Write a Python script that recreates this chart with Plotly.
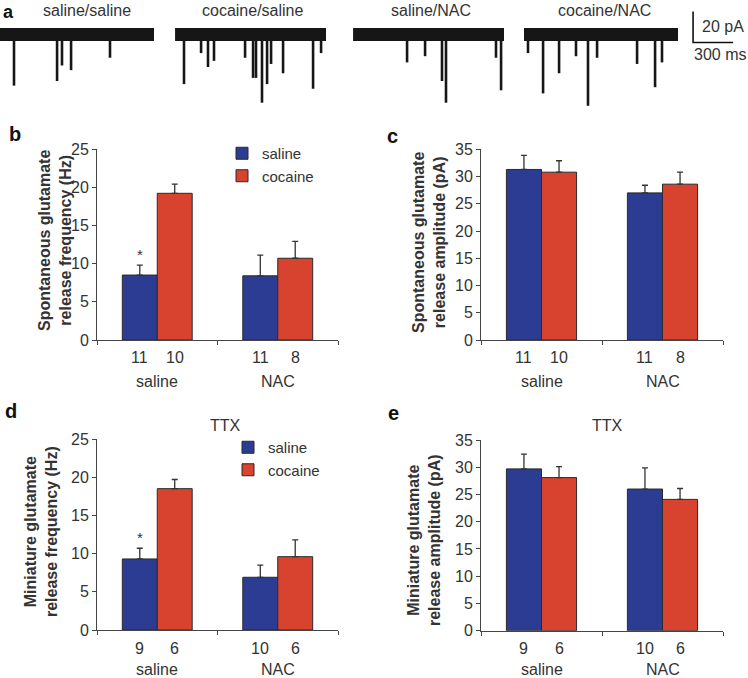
import plotly.graph_objects as go

# ---------------- data ----------------
groups = ["saline", "NAC"]
treatments = ["saline", "cocaine"]

# panel b: spontaneous glutamate release frequency (Hz)
b_saline = [8.5, 8.4]
b_saline_sem = [1.3, 2.7]
b_cocaine = [19.2, 10.7]
b_cocaine_sem = [1.2, 2.2]
# panel c: spontaneous glutamate release amplitude (pA)
c_saline = [31.3, 27.0]
c_saline_sem = [2.6, 1.4]
c_cocaine = [30.8, 28.6]
c_cocaine_sem = [2.1, 2.2]
# panel d: miniature glutamate release frequency (Hz), TTX
d_saline = [9.3, 6.9]
d_saline_sem = [1.4, 1.6]
d_cocaine = [18.5, 9.6]
d_cocaine_sem = [1.2, 2.2]
# panel e: miniature glutamate release amplitude (pA), TTX
e_saline = [29.7, 26.0]
e_saline_sem = [2.7, 3.9]
e_cocaine = [28.1, 24.1]
e_cocaine_sem = [2.0, 2.0]

# cell counts (n) under each bar
n_bc_saline = [11, 11]
n_bc_cocaine = [10, 8]
n_de_saline = [9, 10]
n_de_cocaine = [6, 6]

# panel a: example traces (time in ms, event amplitude in pA)
trace_names = ["saline/saline", "cocaine/saline", "saline/NAC", "cocaine/NAC"]
trace_start_ms = [0, 1313, 2648, 3930]
trace_end_ms = [1155, 2445, 3780, 5085]
trace_label_ms = [650, 1898, 3233, 4530]
events_ms = [
    [105, 428, 465, 533, 825],
    [1380, 1508, 1560, 1605, 1838, 1898, 1920, 1965, 2003, 2033, 2123, 2348, 2408],
    [3053, 3188, 3315, 3345, 3720, 3758],
    [3960, 4073, 4193, 4320, 4410, 4478, 4778, 4913, 4965],
]
events_pA = [
    [33, 30, 20, 23, 15],
    [32, 12, 21, 17, 15, 28, 28, 44, 32, 19, 25, 35, 12],
    [18, 14, 30, 44, 15, 36],
    [12, 38, 25, 14, 46, 15, 19, 34, 18],
]
scale_pA = 20
scale_ms = 300

# ---------------- styling ----------------
W, H = 748, 678
FONT = "Liberation Sans, Arial, Helvetica, sans-serif"
BLUE = "#2b3c92"
RED = "#d8432f"
AX = "#444444"
TXT = "#333333"


def xd(a, b):
    return [a / W, b / W]


def yd(top, bottom):
    return [1 - bottom / H, 1 - top / H]


fig = go.Figure()

panels = [
    ("x", "y", b_saline, b_saline_sem, b_cocaine, b_cocaine_sem, "legend", True),
    ("x2", "y2", c_saline, c_saline_sem, c_cocaine, c_cocaine_sem, "legend", False),
    ("x3", "y3", d_saline, d_saline_sem, d_cocaine, d_cocaine_sem, "legend2", True),
    ("x4", "y4", e_saline, e_saline_sem, e_cocaine, e_cocaine_sem, "legend2", False),
]
xpos = [i + 0.5 for i in range(len(groups))]

for xa, ya, s, ss, c, cs, leg, show in panels:
    for name, vals, errs, col in [("saline", s, ss, BLUE), ("cocaine", c, cs, RED)]:
        fig.add_trace(go.Bar(
            x=xpos, y=vals, name=name, xaxis=xa, yaxis=ya,
            offsetgroup=name, legend=leg, showlegend=show,
            marker=dict(color=col, line=dict(color="#2a2a2a", width=1)),
            error_y=dict(type="data", array=errs, arrayminus=[0] * len(errs),
                         symmetric=False, color="#333333", thickness=1.3, width=3),
        ))

# panel a traces
for k in range(len(trace_names)):
    fig.add_trace(go.Scatter(
        x=[trace_start_ms[k], trace_end_ms[k]], y=[0, 0], mode="lines",
        line=dict(color="#161616", width=13), xaxis="x5", yaxis="y5",
        showlegend=False, hoverinfo="skip"))
    xs, ys = [], []
    for t, a in zip(events_ms[k], events_pA[k]):
        xs += [t, t, None]
        ys += [0, -a, None]
    fig.add_trace(go.Scatter(
        x=xs, y=ys, mode="lines", line=dict(color="#161616", width=2.6),
        xaxis="x5", yaxis="y5", showlegend=False, hoverinfo="skip"))

# scale bar
sb_x0 = 5198
sb_y0 = -5.2
fig.add_trace(go.Scatter(
    x=[sb_x0, sb_x0, sb_x0 + scale_ms], y=[sb_y0 + scale_pA, sb_y0, sb_y0],
    mode="lines", line=dict(color="#111111", width=1.6),
    xaxis="x5", yaxis="y5", showlegend=False, hoverinfo="skip"))

bar_w = (1 - 0.42) / 2

yax = dict(showline=True, linecolor=AX, linewidth=1, ticks="outside", ticklen=4,
           tickcolor=AX, showgrid=False, zeroline=False, dtick=5, automargin=False,
           tickfont=dict(family=FONT, size=16, color=TXT), fixedrange=True)
xax = dict(showline=True, linecolor=AX, linewidth=1, ticks="outside", ticklen=4,
           tickcolor=AX, showgrid=False, zeroline=False, range=[0, 2], automargin=False,
           tickvals=[0, 1, 2], showticklabels=False, fixedrange=True)

fig.update_layout(
    width=W, height=H, autosize=False,
    margin=dict(l=0, r=0, t=0, b=0, pad=0, autoexpand=False),
    paper_bgcolor="white", plot_bgcolor="white",
    barmode="group", bargap=0.42, bargroupgap=0,
    font=dict(family=FONT, color=TXT),
    xaxis=dict(xax, domain=xd(97, 338), anchor="y"),
    yaxis=dict(yax, domain=yd(149, 340), range=[0, 25], anchor="x"),
    xaxis2=dict(xax, domain=xd(481, 723), anchor="y2"),
    yaxis2=dict(yax, domain=yd(149.3, 340), range=[0, 35], anchor="x2"),
    xaxis3=dict(xax, domain=xd(97, 338), anchor="y3"),
    yaxis3=dict(yax, domain=yd(439, 630), range=[0, 25], anchor="x3"),
    xaxis4=dict(xax, domain=xd(481, 723), anchor="y4"),
    yaxis4=dict(yax, domain=yd(440, 630.7), range=[0, 35], anchor="x4"),
    xaxis5=dict(domain=[0, 1], range=[0, W * 7.5], visible=False, fixedrange=True,
                anchor="y5", automargin=False),
    yaxis5=dict(domain=yd(0, 110), range=[-75.5 / 1.55, 34.5 / 1.55], visible=False,
                fixedrange=True, anchor="x5", automargin=False),
    legend=dict(x=222 / W, y=1 - 137 / H, xanchor="left", yanchor="top",
                font=dict(family=FONT, size=15, color=TXT), bgcolor="rgba(0,0,0,0)",
                tracegroupgap=0, itemclick=False),
    legend2=dict(x=228 / W, y=1 - 431 / H, xanchor="left", yanchor="top",
                 font=dict(family=FONT, size=15, color=TXT), bgcolor="rgba(0,0,0,0)",
                 tracegroupgap=0, itemclick=False),
)

ann = []


def add_text(text, x, y, size=16, xref="paper", yref="paper", bold=False,
             angle=0, xanchor="center", yanchor="middle", color=TXT):
    ann.append(dict(text=f"<b>{text}</b>" if bold else text, x=x, y=y, xref=xref, yref=yref,
                    showarrow=False, textangle=angle, xanchor=xanchor, yanchor=yanchor,
                    font=dict(family=FONT, size=size, color=color)))


# n labels and group labels
for xa, ns, nc, ny, gy in [("x", n_bc_saline, n_bc_cocaine, 357, 382),
                           ("x2", n_bc_saline, n_bc_cocaine, 357, 382),
                           ("x3", n_de_saline, n_de_cocaine, 648, 669),
                           ("x4", n_de_saline, n_de_cocaine, 648, 669)]:
    for i, g in enumerate(groups):
        add_text(str(ns[i]), xpos[i] - bar_w / 2, 1 - ny / H, xref=xa)
        add_text(str(nc[i]), xpos[i] + bar_w / 2, 1 - ny / H, xref=xa)
        add_text(g, xpos[i], 1 - gy / H, xref=xa)

# significance asterisks above saline/saline bars
for xa, ya, vals, errs in [("x", "y", b_saline, b_saline_sem), ("x3", "y3", d_saline, d_saline_sem)]:
    add_text("*", xpos[0] - bar_w / 2, vals[0] + errs[0], size=15, xref=xa, yref=ya,
             yanchor="bottom")

# y-axis titles
add_text("Spontaneous glutamate<br>release frequency (Hz)", 55 / W, 1 - 241 / H, bold=True, angle=-90)
add_text("Spontaneous glutamate<br>release amplitude (pA)", 429 / W, 1 - 242 / H, bold=True, angle=-90)
add_text("Miniature glutamate<br>release frequency (Hz)", 41 / W, 1 - 532 / H, bold=True, angle=-90)
add_text("Miniature glutamate<br>release amplitude (pA)", 424 / W, 1 - 540 / H, bold=True, angle=-90)

# TTX labels
add_text("TTX", 225 / W, 1 - 425 / H)
add_text("TTX", 607 / W, 1 - 425 / H)

# panel letters
add_text("a", 0.5 / W, 1.0, size=18, bold=True, color="#111111", xanchor="left", yanchor="top")
for letter, px, py in [("b", 15, 134), ("c", 392, 136), ("d", 11, 411), ("e", 393, 413)]:
    add_text(letter, px / W, 1 - py / H, size=20, bold=True, color="#111111")

# trace labels
for name, t in zip(trace_names, trace_label_ms):
    add_text(name, t, 1 - 11 / H, xref="x5")

# scale bar labels
add_text(f"{scale_pA} pA", sb_x0 + 50, 1 - 27 / H, xref="x5", xanchor="left")
add_text(f"{scale_ms} ms", sb_x0 - 5, 1 - 55 / H, xref="x5", xanchor="left")

fig.update_layout(annotations=ann)

fig.write_html("out.html", config={"displayModeBar": False},
               post_script="document.body.style.margin='0px';document.body.style.overflow='hidden';")
